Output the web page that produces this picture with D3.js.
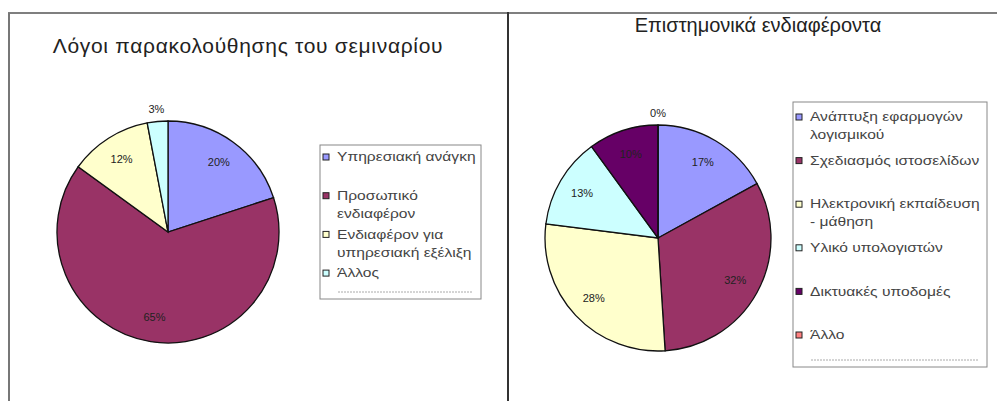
<!DOCTYPE html>
<html>
<head>
<meta charset="utf-8">
<script src="https://cdn.jsdelivr.net/npm/d3@7"></script>
<style>
  body { margin: 0; background: #fff; }
  svg text { font-family: "Liberation Sans", Arial, sans-serif; }
</style>
</head>
<body>
<svg id="chart" width="997" height="401"></svg>
<script>
// data
var leftTitle = "Λόγοι παρακολούθησης του σεμιναρίου";
var leftCategories = ["Υπηρεσιακή ανάγκη", "Προσωπικό ενδιαφέρον", "Ενδιαφέρον για υπηρεσιακή εξέλιξη", "Άλλος"];
var leftLegendLines = [["Υπηρεσιακή ανάγκη"], ["Προσωπικό", "ενδιαφέρον"], ["Ενδιαφέρον για", "υπηρεσιακή εξέλιξη"], ["Άλλος"]];
var leftValues = [20, 65, 12, 3];
var leftColors = ["#9999ff", "#993366", "#ffffcc", "#ccffff"];

var rightTitle = "Επιστημονικά ενδιαφέροντα";
var rightCategories = ["Ανάπτυξη εφαρμογών λογισμικού", "Σχεδιασμός ιστοσελίδων", "Ηλεκτρονική εκπαίδευση - μάθηση", "Υλικό υπολογιστών", "Δικτυακές υποδομές", "Άλλο"];
var rightLegendLines = [["Ανάπτυξη εφαρμογών", "λογισμικού"], ["Σχεδιασμός ιστοσελίδων"], ["Ηλεκτρονική εκπαίδευση", "- μάθηση"], ["Υλικό υπολογιστών"], ["Δικτυακές υποδομές"], ["Άλλο"]];
var rightValues = [17, 32, 28, 13, 10, 0];
var rightColors = ["#9999ff", "#993366", "#ffffcc", "#ccffff", "#660066", "#ff8080"];

var svg = d3.select("#chart");

// outer frames
svg.append("line").attr("x1", 8).attr("y1", 13).attr("x2", 997).attr("y2", 13)
    .attr("stroke", "#555").attr("stroke-width", 1.5);
svg.append("line").attr("x1", 9).attr("y1", 13).attr("x2", 9).attr("y2", 401)
    .attr("stroke", "#777").attr("stroke-width", 2);
svg.append("line").attr("x1", 508).attr("y1", 12).attr("x2", 508).attr("y2", 401)
    .attr("stroke", "#333").attr("stroke-width", 2);

var stretch = 1.3; // legend text in the original is drawn wide

function drawPie(o) {
    var g = svg.append("g");

    g.append("text")
        .attr("x", o.titleX).attr("y", o.titleY)
        .attr("text-anchor", "middle")
        .attr("font-size", o.titleSize).attr("fill", "#222")
        .attr("letter-spacing", o.titleSpacing)
        .text(o.title);

    var pie = d3.pie().sort(null).value(function(d) { return d; });
    var arcs = pie(o.values);
    var arc = d3.arc().innerRadius(0).outerRadius(o.r);
    var labelArc = d3.arc().innerRadius(o.r * 0.78).outerRadius(o.r * 0.78);
    var outArc = d3.arc().innerRadius(o.r + 12).outerRadius(o.r + 12);
    var total = d3.sum(o.values);

    var pg = g.append("g").attr("transform", "translate(" + o.cx + "," + o.cy + ")");
    pg.selectAll("path.slice").data(arcs).enter().append("path")
        .attr("class", "slice")
        .attr("d", arc)
        .attr("fill", function(d, i) { return o.colors[i]; })
        .attr("stroke", "#111").attr("stroke-width", 1.3);

    pg.selectAll("text.lbl").data(arcs).enter().append("text")
        .attr("class", "lbl")
        .attr("transform", function(d) {
            var small = d.data / total < 0.05;
            var c = small ? outArc.centroid(d) : labelArc.centroid(d);
            return "translate(" + c[0] + "," + c[1] + ")";
        })
        .attr("dy", "0.35em")
        .attr("text-anchor", "middle")
        .attr("font-size", 11).attr("fill", "#222")
        .text(function(d) { return Math.round(d.data / total * 100) + "%"; });

    // legend
    var lg = g.append("g");
    lg.append("rect")
        .attr("x", o.legX).attr("y", o.legY).attr("width", o.legW).attr("height", o.legH)
        .attr("fill", "#fff").attr("stroke", "#888").attr("stroke-width", 1);

    var y = d3.scalePoint().domain(d3.range(o.lines.length)).range([o.itemY0, o.itemY0 + o.itemStep * (o.lines.length - 1)]);
    var items = lg.selectAll("g.item").data(o.lines).enter().append("g")
        .attr("class", "item")
        .attr("transform", function(d, i) { return "translate(" + (o.legX + 3) + "," + y(i) + ")"; });
    items.append("rect")
        .attr("x", 0).attr("y", -3).attr("width", 6).attr("height", 6)
        .attr("fill", function(d, i) { return o.colors[i]; })
        .attr("stroke", "#222").attr("stroke-width", 1);
    items.each(function(lines) {
        var it = d3.select(this).append("g")
            .attr("transform", "translate(14,0) scale(" + stretch + ",1)");
        lines.forEach(function(t, k) {
            it.append("text")
                .attr("x", 0).attr("y", k * 18)
                .attr("dy", "0.35em")
                .attr("font-size", 12).attr("fill", "#444")
                .text(t);
        });
    });
    lg.append("line")
        .attr("x1", o.legX + 18).attr("x2", o.legX + o.legW - 8)
        .attr("y1", o.legY + o.legH - 7).attr("y2", o.legY + o.legH - 7)
        .attr("stroke", "#aaa").attr("stroke-dasharray", "2,1");
}

drawPie({
    title: leftTitle, titleX: 248, titleY: 53, titleSize: 21, titleSpacing: 0.7,
    values: leftValues, colors: leftColors, lines: leftLegendLines,
    cx: 168, cy: 232, r: 111,
    legX: 320, legY: 145, legW: 161, legH: 154, itemY0: 157, itemStep: 38.7
});

drawPie({
    title: rightTitle, titleX: 758, titleY: 32, titleSize: 20, titleSpacing: 0,
    values: rightValues, colors: rightColors, lines: rightLegendLines,
    cx: 658, cy: 238, r: 113,
    legX: 793, legY: 102, legW: 194, legH: 265, itemY0: 117, itemStep: 43.6
});
</script>
</body>
</html>
